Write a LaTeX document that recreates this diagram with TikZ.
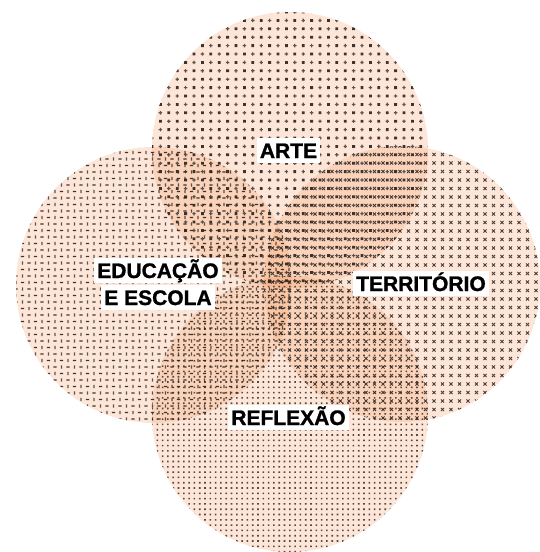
\documentclass[tikz,border=0pt]{standalone}
\usepackage{fontspec}
\setmainfont{Liberation Sans}
\definecolor{peach}{HTML}{F5965A}
\definecolor{ink}{HTML}{262220}
\begin{document}
\begin{tikzpicture}[x=1pt,y=-1pt,
  lab/.style={fill=white, inner xsep=3pt, inner ysep=0pt, text height=20pt, text depth=5pt,
    font=\fontsize{21}{21}\bfseries\addfontfeature{FakeBold=1.2}\selectfont, anchor=base},
  disc/.style={fill=peach, fill opacity=0.24},
  dots/.style={fill=ink, fill opacity=0.9}]
\useasboundingbox (0,0) rectangle (540,552);
\coordinate (ct) at (290,150);
\coordinate (cl) at (154,285);
\coordinate (cr) at (402,284);
\coordinate (cb) at (290,414);
\fill[disc] (ct) circle[radius=138pt];
\fill[disc] (cl) circle[radius=138pt];
\fill[disc] (cr) circle[radius=138pt];
\fill[disc] (cb) circle[radius=138pt];
% top: squares and pluses
\begin{scope}
\clip (ct) circle[radius=138pt];
\fill[dots] \foreach \i in {0,...,33} {\foreach \j in {0,...,16} {
  ({152+8.4*\i-1.4},{12+8.4*(2*\j+mod(\i,2))-1.4}) rectangle ++(2.8,2.8)}};
\fill[dots, fill opacity=0.75] \foreach \i in {0,...,33} {\foreach \j in {0,...,16} {
  ({152+8.4*\i-1.7},{12+8.4*(2*\j+1-mod(\i,2))-0.6}) rectangle ++(3.4,1.2)
  ({152+8.4*\i-0.6},{12+8.4*(2*\j+1-mod(\i,2))-1.7}) rectangle ++(1.2,3.4)}};
\end{scope}
% left: dashes
\begin{scope}
\clip (cl) circle[radius=138pt];
\fill[dots] \foreach \i in {0,...,42} {\foreach \j in {0,...,21} {
  ({16+6.5*\i-1.6},{146+6.5*(2*\j+mod(\i,2))-0.7}) rectangle ++(3.2,1.4)}};
\fill[dots, fill opacity=0.75] \foreach \i in {0,...,42} {\foreach \j in {0,...,21} {
  ({16+6.5*\i-0.7},{146+6.5*(2*\j+1-mod(\i,2))-1.6}) rectangle ++(1.4,3.2)}};
\end{scope}
% right: crosses
\begin{scope}
\clip (cr) circle[radius=138pt];
\draw[ink, draw opacity=0.85, line width=1pt] \foreach \i in {0,...,33} {\foreach \j in {0,...,33} {
  ({264+8.5*\i-1.6},{146+8.5*\j-1.6}) -- ++(3.2,3.2)
  ({264+8.5*\i-1.6},{146+8.5*\j+1.6}) -- ++(3.2,-3.2)}};
\end{scope}
% bottom: fine dots
\begin{scope}
\clip (cb) circle[radius=138pt];
\fill[dots, fill opacity=0.8] \foreach \i in {0,...,52} {\foreach \j in {0,...,52} {
  ({152+5.3*\i-0.8},{276+5.3*\j-0.8}) rectangle ++(1.6,1.6)}};
\end{scope}
% labels
\node[lab] (arte) at (288.5,158) {ARTE};
\node[lab] (edu1) at (158,278) {EDUCAÇÃO};
\node[lab] (edu2) at (158,305) {E ESCOLA};
\node[lab] (terr) at (421,291) {TERRITÓRIO};
\node[lab] (refl) at (288.5,425) {REFLEXÃO};
\end{tikzpicture}
\end{document}
